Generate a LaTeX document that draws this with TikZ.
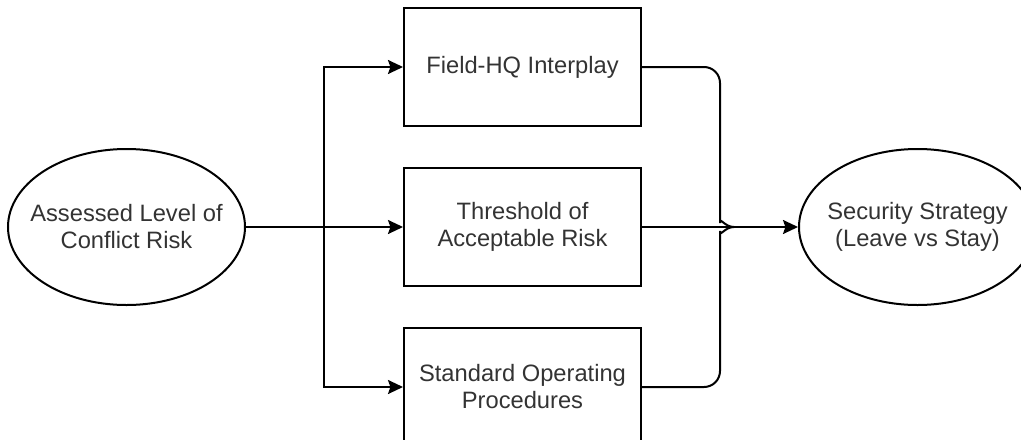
\documentclass[tikz,border=0pt]{standalone}
\usepackage{fontspec}
\setmainfont{Liberation Sans}
\definecolor{inkgray}{RGB}{51, 51, 51}
\usetikzlibrary{arrows.meta, positioning, shapes.geometric, calc}
\tikzset{
	factor/.style={rectangle, draw=black, line width=1pt, align=center, minimum width=118.5pt, minimum height=59pt, inner sep=0pt, text=inkgray, font=\fontsize{11.85pt}{13.5pt}\selectfont},
	endpoint/.style={ellipse, draw=black, line width=1pt, align=center, minimum width=118.5pt, minimum height=78pt, inner xsep=-25pt, inner ysep=0pt, text=inkgray, font=\fontsize{11.85pt}{13.5pt}\selectfont},
	arrow/.style={-{Stealth[length=7.5pt, width=7pt, inset=1.2pt]}, line width=1pt, draw=black},
	link/.style={line width=1pt, draw=black},
}

\begin{document}
\begin{tikzpicture}[x=0.5pt, y=-0.5pt, node distance=20pt]
	\useasboundingbox (0,0) rectangle (1021,439);
	\clip (0,0) rectangle (1021,439);
	\node[endpoint] (risk) at (126.5,227) {Assessed Level of\\Conflict Risk};
	\node[factor, right=78.5pt of risk] (threshold) {Threshold of\\Acceptable Risk};
	\node[factor, above=of threshold] (fieldhq) {Field-HQ Interplay};
	\node[factor, below=of threshold] (sop) {Standard Operating\\Procedures};
	\node[endpoint, right=78pt of threshold] (strategy) {Security Strategy\\(Leave vs Stay)};
	\coordinate[right=39pt of risk] (split);
	\coordinate[right=39pt of threshold] (bend);
	\coordinate[right=46pt of threshold] (join);
	% fan out
	\draw[arrow] (risk.east) -- (threshold.west);
	\draw[arrow] (split) |- (fieldhq.west);
	\draw[arrow] (split) |- (sop.west);
	% merge
	\draw[arrow] (threshold.east) -- (strategy.west);
	\draw[link] (fieldhq.east) [rounded corners=8pt] -| ([yshift=10pt]bend) [sharp corners] to[out=-90, in=180] (join);
	\draw[link] (sop.east) [rounded corners=8pt] -| ([yshift=-10pt]bend) [sharp corners] to[out=90, in=180] (join);
\end{tikzpicture}
\end{document}
